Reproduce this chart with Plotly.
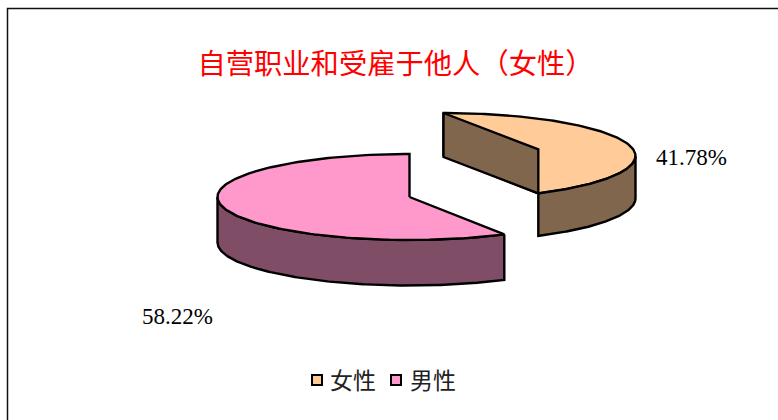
import numpy as np
import plotly.graph_objects as go

categories = ["女性", "男性"]
shares = [41.78, 58.22]
label_texts = ["41.78%", "58.22%"]
top_colors = ["#FFCC99", "#FF99CC"]
side_colors = ["#80664D", "#804D66"]

# projection of the tilted pie, in screen pixels
RX, RY = 192.0, 43.0
DEPTHS = {"女性": 42.5, "男性": 45.5}
CENTERS = {"女性": (443.5, 156.0), "男性": (409.5, 197.0)}
W, H = 778, 420
LEGEND_X = [317, 396]
LEGEND_TEXT_X = [330, 410]
LEGEND_Y = 380
LEGEND_TEXT_Y = 383


def rim(c, a0, a1, n=160):
    """Points on the rim for clockwise angles (degrees from 12 o'clock)."""
    t = np.radians(np.linspace(a0, a1, n))
    return c[0] + RX * np.sin(t), c[1] - RY * np.cos(t)


def poly(fig, x, y, color):
    x, y = list(x), list(y)
    x.append(x[0])
    y.append(y[0])
    fig.add_trace(go.Scatter(x=x, y=y, mode="lines", fill="toself",
                             fillcolor=color, line=dict(color="black", width=2.4),
                             hoverinfo="skip", showlegend=False))


fig = go.Figure()

# the split angle between the two slices
split = shares[0] / sum(shares) * 360.0

# male slice: 12 o'clock anticlockwise to the split
c, d = CENTERS["男性"], DEPTHS["男性"]
ax, ay = rim(c, split, 360.0)
bx, by = rim(c, split, 270.0)
poly(fig, np.r_[bx, bx[::-1]], np.r_[by, by[::-1] + d], side_colors[1])
poly(fig, np.r_[[c[0]], ax], np.r_[[c[1]], ay], top_colors[1])

# female slice: 12 o'clock clockwise to the split
c, d = CENTERS["女性"], DEPTHS["女性"]
ax, ay = rim(c, 0.0, split)
poly(fig, np.r_[[c[0]], ax], np.r_[[c[1]], ay], top_colors[0])
bx, by = rim(c, 90.0, split)
poly(fig, np.r_[bx, bx[::-1]], np.r_[by, by[::-1] + d], side_colors[0])
# cut wall seen through the gap
ex, ey = ax[-1], ay[-1]
top_x, top_y = ax[0], ay[0]
poly(fig, [top_x, ex, ex, top_x], [top_y, ey - 44, ey, top_y + 44], side_colors[0])

# legend row
fig.add_trace(go.Scatter(x=LEGEND_X, y=[LEGEND_Y] * 2, mode="markers",
                         marker=dict(symbol="square", size=10, color=top_colors,
                                     line=dict(color="black", width=2)),
                         hoverinfo="skip", showlegend=False))
fig.add_trace(go.Scatter(x=LEGEND_TEXT_X, y=[LEGEND_TEXT_Y] * 2, mode="text",
                         text=categories, textposition="middle right",
                         textfont=dict(family="Noto Sans CJK SC", size=23, color="#222222"),
                         hoverinfo="skip", showlegend=False))

fig.add_annotation(x=691, y=157, text=label_texts[0], showarrow=False,
                   font=dict(family="Liberation Serif", size=23, color="black"))
fig.add_annotation(x=177, y=316, text=label_texts[1], showarrow=False,
                   font=dict(family="Liberation Serif", size=23, color="black"))

fig.update_layout(
    width=W, height=H, margin=dict(l=0, r=0, t=0, b=0),
    paper_bgcolor="white", plot_bgcolor="white", showlegend=False,
    title=dict(text="自营职业和受雇于他人（女性）", x=395.5 / W, xanchor="center",
               y=1 - 64 / H, yanchor="middle",
               font=dict(family="Noto Sans CJK SC", size=28.3, color="#FF0000")),
    xaxis=dict(range=[0, W], visible=False, fixedrange=True),
    yaxis=dict(range=[H, 0], visible=False, fixedrange=True),
    shapes=[dict(type="rect", x0=7.5, y0=8.5, x1=800, y1=460,
                 line=dict(color="#111111", width=1.5), layer="below")],
)
fig.write_html("out.html", post_script="document.body.style.margin='0';",
               config={"displayModeBar": False})
